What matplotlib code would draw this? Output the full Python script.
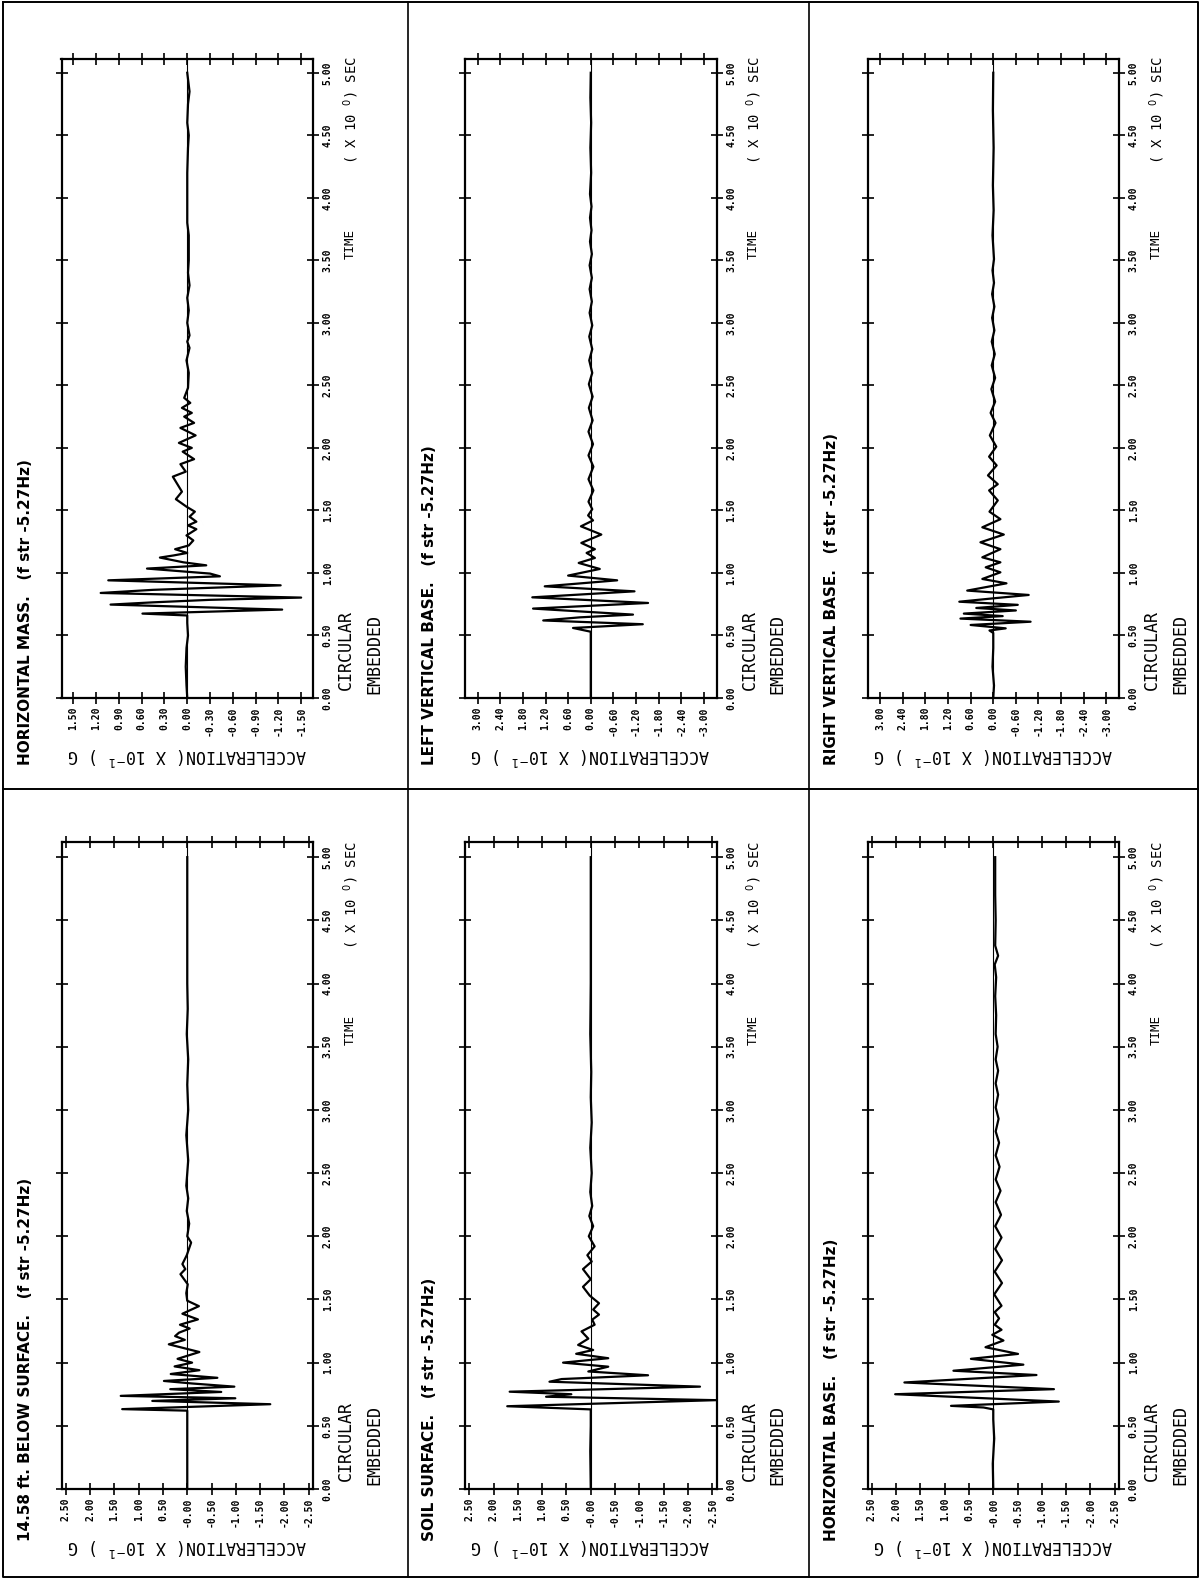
import matplotlib.pyplot as plt

W, H = 1201, 1579

# ---- traces: time (s) and acceleration (x 10^-1 g), read at the turning points ----
mass_t = [0.00, 0.10, 0.25, 0.40, 0.50, 0.60, 0.66, 0.675, 0.707, 0.747,
          0.765, 0.785, 0.803, 0.840, 0.865, 0.901, 0.941, 0.973, 0.995, 1.035,
          1.061, 1.085, 1.123, 1.14, 1.16, 1.19, 1.22, 1.26, 1.30, 1.35,
          1.38, 1.41, 1.45, 1.49, 1.53, 1.59, 1.65, 1.69, 1.77, 1.81,
          1.87, 1.91, 1.97, 2.00, 2.04, 2.10, 2.16, 2.20, 2.25, 2.28,
          2.32, 2.36, 2.40, 2.48, 2.60, 2.70, 2.80, 2.85, 2.90, 3.00,
          3.10, 3.20, 3.30, 3.40, 3.50, 3.70, 3.80, 4.00, 4.20, 4.40,
          4.50, 4.60, 4.75, 4.85, 5.00]
mass_a = [0.00, 0.01, 0.02, 0.01, -0.01, 0.00, 0.00, 0.59, -1.25, 1.01,
          0.45, -0.30, -1.50, 1.14, 0.45, -1.23, 1.04, -0.43, -0.30, 0.53,
          -0.25, 0.05, 0.36, 0.18, 0.00, 0.16, -0.02, -0.08, 0.01, -0.12,
          -0.01, -0.12, -0.03, -0.10, 0.01, 0.15, 0.07, 0.11, 0.19, 0.02,
          0.09, -0.09, 0.06, -0.06, 0.11, -0.11, 0.09, -0.09, 0.04, -0.06,
          0.07, -0.04, 0.04, -0.01, -0.02, 0.01, -0.03, 0.00, -0.03, 0.00,
          -0.02, 0.00, -0.03, -0.01, -0.02, -0.02, 0.00, 0.00, 0.00, -0.01,
          -0.02, 0.00, -0.01, -0.03, 0.00]

lvb_t = [0.00, 0.30, 0.53, 0.56, 0.59, 0.62, 0.645, 0.667, 0.715, 0.760,
         0.805, 0.853, 0.893, 0.941, 0.979, 1.032, 1.08, 1.12, 1.16, 1.19,
         1.24, 1.307, 1.373, 1.42, 1.46, 1.51, 1.57, 1.66, 1.75, 1.85,
         1.94, 2.03, 2.13, 2.22, 2.32, 2.41, 2.51, 2.60, 2.70, 2.79,
         2.89, 2.98, 3.08, 3.17, 3.27, 3.36, 3.46, 3.55, 3.65, 3.74,
         3.84, 3.93, 4.03, 4.20, 4.40, 4.60, 4.80, 5.00]
lvb_a = [0.00, 0.00, 0.00, 0.47, -1.38, 1.26, 0.29, -1.12, 1.53, -1.52,
         1.55, -1.16, 1.22, -0.70, 0.60, -0.24, 0.32, -0.11, 0.11, -0.11,
         0.25, -0.28, 0.26, -0.06, 0.07, -0.04, 0.06, -0.07, 0.06, -0.07,
         0.06, -0.06, 0.06, -0.05, 0.05, -0.05, 0.05, -0.04, 0.04, -0.04,
         0.04, -0.04, 0.03, -0.03, 0.03, -0.03, 0.03, -0.03, 0.02, -0.02,
         0.02, -0.02, 0.02, -0.01, 0.01, -0.01, 0.01, 0.00]

rvb_t = [0.00, 0.10, 0.25, 0.40, 0.52, 0.54, 0.557, 0.584, 0.610, 0.635,
         0.655, 0.675, 0.700, 0.720, 0.745, 0.770, 0.800, 0.824, 0.859, 0.917,
         0.952, 1.005, 1.045, 1.085, 1.125, 1.19, 1.245, 1.307, 1.365, 1.43,
         1.49, 1.58, 1.66, 1.71, 1.78, 1.86, 1.93, 2.01, 2.10, 2.20,
         2.28, 2.37, 2.47, 2.56, 2.66, 2.75, 2.85, 2.94, 3.04, 3.13,
         3.23, 3.32, 3.42, 3.51, 3.70, 3.90, 4.10, 4.40, 4.70, 5.00]
rvb_a = [0.00, -0.02, 0.02, 0.00, 0.00, 0.10, -0.33, 0.60, -0.99, 0.87,
         -0.25, 0.78, -0.60, 0.45, -0.65, 0.90, -0.10, -0.94, 0.69, -0.35,
         0.29, -0.19, 0.20, -0.19, 0.29, -0.19, 0.34, -0.28, 0.29, -0.19,
         0.10, -0.12, 0.11, -0.12, 0.14, -0.09, 0.11, -0.08, 0.09, -0.06,
         0.07, -0.05, 0.05, -0.05, 0.04, -0.04, 0.04, -0.03, 0.03, -0.03,
         0.03, -0.02, 0.02, -0.02, 0.02, -0.01, 0.01, -0.01, 0.01, 0.00]

bs_t = [0.00, 0.30, 0.62, 0.632, 0.671, 0.697, 0.718, 0.737, 0.768, 0.790,
        0.810, 0.835, 0.855, 0.880, 0.910, 0.940, 0.970, 1.000, 1.030, 1.084,
        1.145, 1.180, 1.210, 1.237, 1.270, 1.300, 1.342, 1.387, 1.447, 1.490,
        1.550, 1.620, 1.700, 1.740, 1.780, 1.850, 1.950, 2.000, 2.100, 2.200,
        2.300, 2.400, 2.600, 2.800, 3.000, 3.200, 3.400, 3.600, 3.800, 4.000,
        4.500, 5.000]
bs_a = [0.00, 0.00, 0.00, 1.34, -1.71, 0.72, -0.99, 1.37, -0.70, 0.35,
        -0.97, -0.10, 0.48, -0.62, 0.34, -0.25, 0.26, -0.10, 0.20, -0.25,
        0.38, 0.05, 0.25, 0.17, -0.05, 0.15, -0.22, 0.10, -0.24, 0.00,
        0.02, -0.01, 0.14, 0.04, 0.10, 0.01, -0.08, 0.00, -0.04, 0.01,
        -0.02, 0.02, -0.02, 0.02, -0.02, 0.00, -0.02, 0.01, -0.01, 0.00,
        0.00, 0.00]

ss_t = [0.00, 0.30, 0.50, 0.63, 0.655, 0.703, 0.730, 0.750, 0.770, 0.810,
        0.849, 0.870, 0.900, 0.930, 0.968, 1.000, 1.035, 1.070, 1.100, 1.140,
        1.190, 1.247, 1.300, 1.340, 1.380, 1.420, 1.470, 1.530, 1.600, 1.660,
        1.740, 1.800, 1.850, 1.920, 2.000, 2.080, 2.160, 2.240, 2.350, 2.500,
        2.700, 2.900, 3.100, 3.300, 3.600, 4.000, 4.500, 5.000]
ss_a = [0.00, 0.01, 0.00, 0.00, 1.72, -2.58, 0.92, 0.40, 1.67, -2.25,
        0.85, 0.60, -1.18, 0.05, -0.36, 0.57, -0.36, 0.30, -0.05, 0.26,
        0.05, 0.19, -0.08, -0.03, -0.17, -0.05, -0.17, 0.02, 0.16, 0.00,
        0.16, -0.02, 0.07, -0.08, 0.04, -0.05, 0.03, -0.03, 0.01, -0.02,
        0.01, -0.02, 0.00, -0.01, 0.01, 0.00, 0.00, 0.00]

hb_t = [0.00, 0.20, 0.40, 0.55, 0.63, 0.645, 0.658, 0.692, 0.750, 0.790,
        0.843, 0.902, 0.936, 0.984, 1.030, 1.069, 1.122, 1.175, 1.220, 1.260,
        1.300, 1.350, 1.400, 1.450, 1.540, 1.630, 1.720, 1.810, 1.900, 1.990,
        2.080, 2.170, 2.270, 2.360, 2.450, 2.550, 2.640, 2.740, 2.830, 2.930,
        3.020, 3.120, 3.210, 3.310, 3.400, 3.500, 3.600, 3.750, 3.900, 4.050,
        4.150, 4.220, 4.300, 4.500, 4.700, 5.000]
hb_a = [0.00, 0.01, -0.02, 0.00, 0.00, 0.20, 0.87, -1.35, 2.02, -1.25,
        1.83, -0.89, 0.82, -0.62, 0.46, -0.51, 0.16, -0.21, 0.02, -0.17,
        -0.03, -0.12, -0.03, -0.17, -0.02, -0.18, -0.03, -0.18, -0.04, -0.17,
        -0.04, -0.16, -0.05, -0.15, -0.05, -0.13, -0.05, -0.12, -0.05, -0.11,
        -0.05, -0.10, -0.05, -0.10, -0.05, -0.09, -0.05, -0.06, -0.04, -0.06,
        -0.03, -0.10, -0.04, -0.05, -0.04, -0.04]

# ---- axis ticks ----
acc_ticks_15 = [1.5, 1.2, 0.9, 0.6, 0.3, 0.0, -0.3, -0.6, -0.9, -1.2, -1.5]
acc_labels_15 = ["1.50", "1.20", "0.90", "0.60", "0.30", "0.00",
                 "-0.30", "-0.60", "-0.90", "-1.20", "-1.50"]
acc_ticks_30 = [3.0, 2.4, 1.8, 1.2, 0.6, 0.0, -0.6, -1.2, -1.8, -2.4, -3.0]
acc_labels_30 = ["3.00", "2.40", "1.80", "1.20", "0.60", "0.00",
                 "-0.60", "-1.20", "-1.80", "-2.40", "-3.00"]
acc_ticks_25 = [2.5, 2.0, 1.5, 1.0, 0.5, 0.0, -0.5, -1.0, -1.5, -2.0, -2.5]
acc_labels_25 = ["2.50", "2.00", "1.50", "1.00", "0.50", "-0.00",
                 "-0.50", "-1.00", "-1.50", "-2.00", "-2.50"]
time_ticks = [0.0, 0.5, 1.0, 1.5, 2.0, 2.5, 3.0, 3.5, 4.0, 4.5, 5.0]
time_labels = ["0.00", "0.50", "1.00", "1.50", "2.00", "2.50",
               "3.00", "3.50", "4.00", "4.50", "5.00"]

titles = ["HORIZONTAL MASS.   (f str -5.27Hz)",
          "LEFT VERTICAL BASE.   (f str -5.27Hz)",
          "RIGHT VERTICAL BASE.   (f str -5.27Hz)",
          "14.58 ft. BELOW SURFACE.   (f str -5.27Hz)",
          "SOIL SURFACE.   (f str -5.27Hz)",
          "HORIZONTAL BASE.   (f str -5.27Hz)"]

panels = [
    (0, 0, mass_t, mass_a, 1.656, acc_ticks_15, acc_labels_15),
    (1, 0, lvb_t, lvb_a, 3.335, acc_ticks_30, acc_labels_30),
    (2, 0, rvb_t, rvb_a, 3.335, acc_ticks_30, acc_labels_30),
    (0, 1, bs_t, bs_a, 2.59, acc_ticks_25, acc_labels_25),
    (1, 1, ss_t, ss_a, 2.59, acc_ticks_25, acc_labels_25),
    (2, 1, hb_t, hb_a, 2.59, acc_ticks_25, acc_labels_25),
]

# plot boxes in page pixels
col_x = [61.5, 465.0, 867.5]
box_w = 251.5
row_y = [(59.0, 698.0), (842.0, 1489.0)]
row_tmax = [5.11, 5.12]

mono = "DejaVu Sans Mono"

fig = plt.figure(figsize=(W / 100, H / 100), dpi=100)
fig.patch.set_facecolor("white")

# page frame and cell dividers
page = fig.add_axes([0, 0, 1, 1])
page.set_xlim(0, W)
page.set_ylim(H, 0)
page.axis("off")
page.plot([3, 1198, 1198, 3, 3], [2, 2, 1577, 1577, 2], color="black", lw=1.4)
page.plot([3, 1198], [789, 789], color="black", lw=1.4)
page.plot([408, 408], [2, 1577], color="black", lw=1.2)
page.plot([809, 809], [2, 1577], color="black", lw=1.2)


def fx(x):
    return x / W


def fy(y):
    return 1 - y / H


for i, (col, row, t, a, lim, aticks, alabels) in enumerate(panels):
    x0 = col_x[col]
    x1 = x0 + box_w
    y0, y1 = row_y[row]
    tmax = row_tmax[row]
    ax = fig.add_axes([fx(x0), fy(y1), fx(x1 - x0), (y1 - y0) / H])

    ax.axvline(0, color="black", lw=0.8)
    ax.plot(a, t, color="black", lw=1.6)
    ax.set_xlim(lim, -lim)
    ax.set_ylim(0, tmax)

    ax.set_xticks(aticks)
    ax.set_xticklabels(alabels, rotation=90, fontsize=7, fontweight="bold",
                       family=mono)
    ax.set_yticks(time_ticks)
    ax.set_yticklabels(time_labels, rotation=90, fontsize=7, fontweight="bold",
                       family=mono, va="center")
    ax.tick_params(direction="inout", length=8, width=1.2,
                   top=True, bottom=True, left=True, right=True,
                   labelleft=False, labelright=True, labelbottom=True)
    ax.tick_params(axis="x", pad=2)
    ax.tick_params(axis="y", pad=3)
    for s in ax.spines.values():
        s.set_linewidth(1.6)

    def ty(tv):
        return y1 - tv / tmax * (y1 - y0)

    # panel title, down the left side
    fig.text(fx(x0 - 36), fy(y1 + (67 if row == 0 else 52)), titles[i],
             rotation=90, ha="center", va="bottom", fontsize=11,
             fontweight="bold")
    # acceleration axis name, printed upside down under the ticks
    fig.text(fx((x0 + x1) / 2), fy(y1 + 58),
             r"ACCELERATION( X 10$^{-1}$ ) G", rotation=180, ha="center",
             va="center", fontsize=12, family=mono)
    # time axis name and unit
    fig.text(fx(x1 + 37), fy(ty(3.63)), "TIME", rotation=90, ha="center",
             va="center", fontsize=9, family=mono)
    fig.text(fx(x1 + 38), fy(ty(4.7)), r"( X 10 $^{0}$) SEC", rotation=90,
             ha="center", va="center", fontsize=10, family=mono)
    fig.text(fx(x1 + 33), fy(y1 - 8), "CIRCULAR", rotation=90, ha="center",
             va="bottom", fontsize=12, family=mono)
    fig.text(fx(x1 + 61), fy(y1 - 4), "EMBEDDED", rotation=90, ha="center",
             va="bottom", fontsize=12, family=mono)

fig.savefig("out.png", dpi=100)
